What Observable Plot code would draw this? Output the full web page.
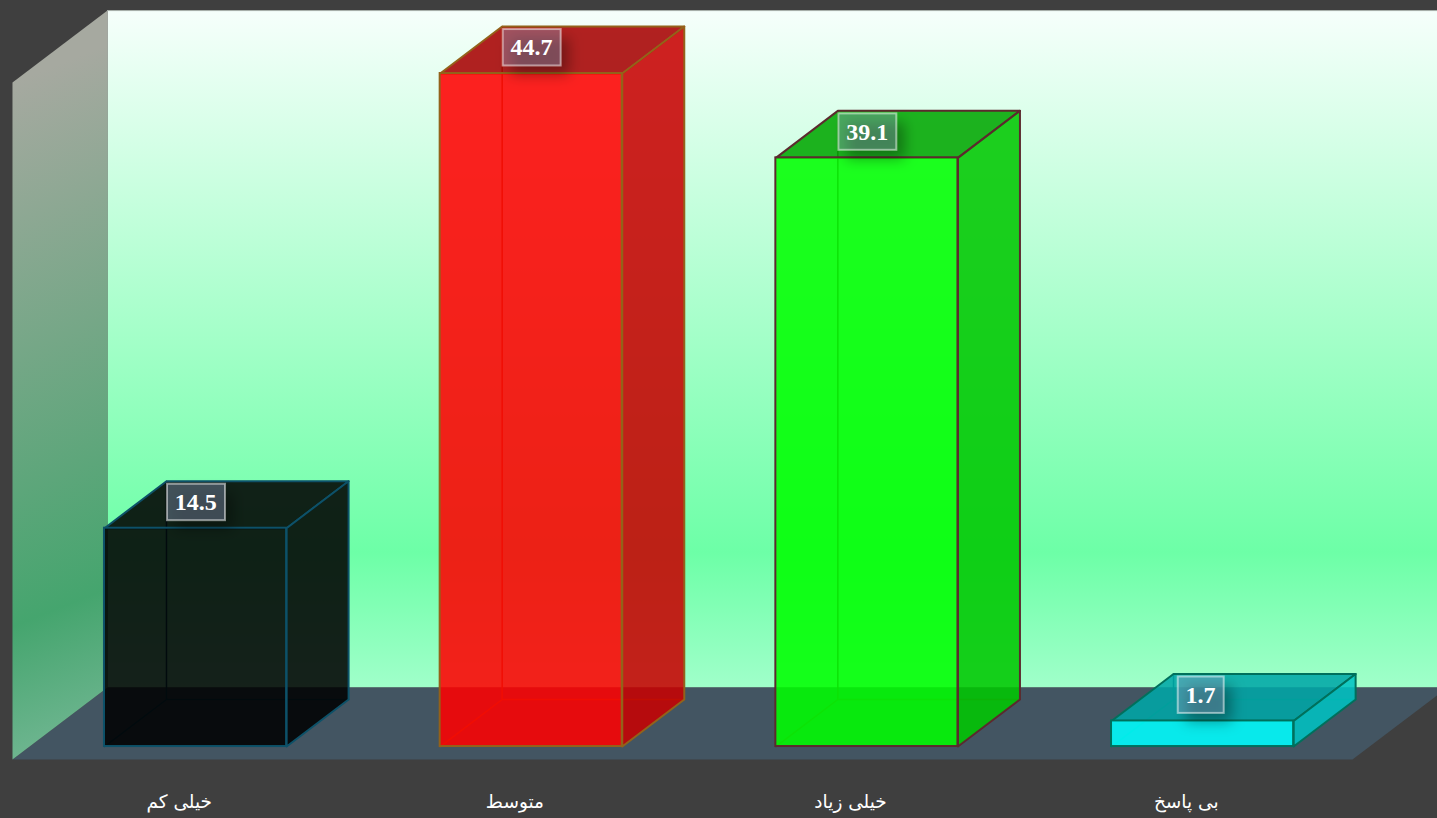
<!DOCTYPE html>
<html lang="fa">
<head>
<meta charset="utf-8">
<style>
html,body{margin:0;padding:0;background:#3f3f3f;overflow:hidden}
#chart svg{display:block;background:linear-gradient(#3c3c3c,#414141)}
</style>
<script src="https://cdn.jsdelivr.net/npm/d3@7"></script>
<script src="https://cdn.jsdelivr.net/npm/@observablehq/plot@0.6"></script>
</head>
<body>
<div id="chart"></div>
<script>
const categories = ["خیلی کم", "متوسط", "خیلی زیاد", "بی پاسخ"];
const values = [14.5, 44.7, 39.1, 1.7];
const valueLabels = ["14.5", "44.7", "39.1", "1.7"];
const barColors = ["#000000", "#ff0000", "#00ff00", "#00ffff"];
const edgeColors = ["#0d5168", "#93621a", "#5c2a2e", "#00705c"];
const topColors = ["#000000", "#a60000", "#00a600", "#00a6a6"];
const sideColors = ["#000000", "#c80000", "#00c800", "#00c2c2"];

// room and bar geometry, in scale units (x: category slots, y: value units)
const halfBar = 0.2726, barWidth = 0.5425, depthX = 0.1847, depthY = 3.122;
const room = {left: -0.5467, back: -0.2637, frontRight: 3.4452, backRight: 3.7282,
              top: 48.88, sideTop: 44.10, floorBack: 3.92, floorFront: -0.863};
const faceOpacity = 0.87;

const bars = categories.map((name, i) => ({
  name, i, value: values[i], label: valueLabels[i],
  fill: barColors[i], edge: edgeColors[i], topFill: topColors[i], sideFill: sideColors[i],
  l: i - halfBar, r: i - halfBar + barWidth
}));

const pt = (x, y) => ({x, y});
const faces = (fn, colorKey) => bars.flatMap(b => fn(b).map(p => ({...p, id: b.i, fill: b[colorKey], edge: b.edge})));

const topFace = b => [pt(b.l, b.value), pt(b.r, b.value), pt(b.r + depthX, b.value + depthY), pt(b.l + depthX, b.value + depthY)];
const sideFace = b => [pt(b.r, 0), pt(b.r + depthX, depthY), pt(b.r + depthX, b.value + depthY), pt(b.r, b.value)];
const backEdges = b => [pt(b.l, 0), pt(b.l + depthX, depthY), pt(b.l + depthX, b.value + depthY), pt(b.l + depthX, depthY), pt(b.r + depthX, depthY)];

const polygon = (points, options) => Plot.line(points, {x: "x", y: "y", curve: "linear-closed", stroke: "none", ...options});
const face = (points) => Plot.line(points, {
  x: "x", y: "y", z: "id", curve: "linear-closed",
  fill: "fill", fillOpacity: faceOpacity, stroke: "edge", strokeWidth: 2, strokeLinejoin: "round"
});

const boxes = bars.map(b => {
  const n = b.label.length;
  const x1 = b.l + depthX + 0.003 + (4 - n) * 0.011;
  const x2 = x1 + (12 * n + 10) / 335.67;
  return {x1, x2, xc: (x1 + x2) / 2 - 0.002, y1: b.value + 0.5, y2: b.value + 2.92, yc: b.value + 1.71, label: b.label};
});

const svg = Plot.plot({
  width: 1437, height: 818,
  marginTop: 0, marginRight: 0, marginBottom: 0, marginLeft: 0,
  style: {background: "transparent", overflow: "hidden"},
  x: {domain: [-0.5824, 3.6985], range: [0, 1437], axis: null},
  y: {domain: [-4.78, 49.55], range: [818, 0], axis: null},
  color: {type: "identity"},
  marks: [
    // back wall, floor and side wall
    polygon([pt(room.back, room.top), pt(room.backRight, room.top), pt(room.backRight, room.floorBack), pt(room.back, room.floorBack)], {fill: "url(#wallGrad)"}),
    polygon([pt(room.left, room.floorFront), pt(room.back, room.floorBack), pt(room.backRight, room.floorBack), pt(room.frontRight, room.floorFront)], {fill: "#435562"}),
    polygon([pt(room.left, room.sideTop), pt(room.back, room.top), pt(room.back, room.floorBack), pt(room.left, room.floorFront)], {fill: "url(#sideGrad)"}),
    Plot.ruleY([room.top], {x1: room.back, x2: room.backRight, stroke: "#a9b0ab", strokeWidth: 1}),
    // hidden bar edges, seen through the translucent faces
    Plot.line(faces(backEdges, "fill"), {x: "x", y: "y", z: "id", stroke: "edge", strokeWidth: 1.5}),
    // translucent faces
    face(faces(topFace, "topFill")),
    face(faces(sideFace, "sideFill")),
    Plot.rect(bars, {x1: "l", x2: "r", y1: 0, y2: "value", fill: "fill", fillOpacity: faceOpacity, stroke: "edge", strokeWidth: 2}),
    // value labels
    Plot.rect(boxes, {x1: "x1", x2: "x2", y1: "y1", y2: "y2", dx: 8, dy: 9, fill: "#000000", fillOpacity: 0.34}),
    Plot.rect(boxes, {x1: "x1", x2: "x2", y1: "y1", y2: "y2", fill: "#8c9abe", fillOpacity: 0.4, stroke: "#ffffff", strokeOpacity: 0.5, strokeWidth: 2}),
    Plot.text(boxes, {x: "xc", y: "yc", text: "label", fill: "#ffffff", fontSize: 24, fontWeight: "bold", fontFamily: "Liberation Serif", textAnchor: "middle", lineAnchor: "middle"}),
    // category labels
    Plot.text(bars, {x: d => d.i - 0.05, y: -3.72, text: "name", fill: "#ffffff", fontSize: 18.5, fontFamily: "DejaVu Sans", textAnchor: "middle", lineAnchor: "middle"})
  ]
});

const defs = document.createElementNS("http://www.w3.org/2000/svg", "defs");
defs.innerHTML = `
<linearGradient id="wallGrad" x1="0" y1="0" x2="0" y2="1">
  <stop offset="0" stop-color="#f6fffb"/>
  <stop offset="0.8" stop-color="#6dffa7"/>
  <stop offset="1" stop-color="#a0ffca"/>
</linearGradient>
<linearGradient id="sideGrad" gradientUnits="userSpaceOnUse" x1="0" y1="0" x2="280" y2="700">
  <stop offset="0.107" stop-color="#a6a9a0"/>
  <stop offset="0.777" stop-color="#45a56e"/>
  <stop offset="0.94" stop-color="#6db58f"/>
</linearGradient>
<filter id="shadowBlur" filterUnits="userSpaceOnUse" x="0" y="0" width="1437" height="818">
  <feGaussianBlur stdDeviation="7"/>
</filter>`;
svg.prepend(defs);
// soften the shadow rectangles behind the value labels
svg.querySelectorAll('g[fill="#000000"]').forEach(g => g.setAttribute("filter", "url(#shadowBlur)"));

document.getElementById("chart").append(svg);
</script>
</body>
</html>
